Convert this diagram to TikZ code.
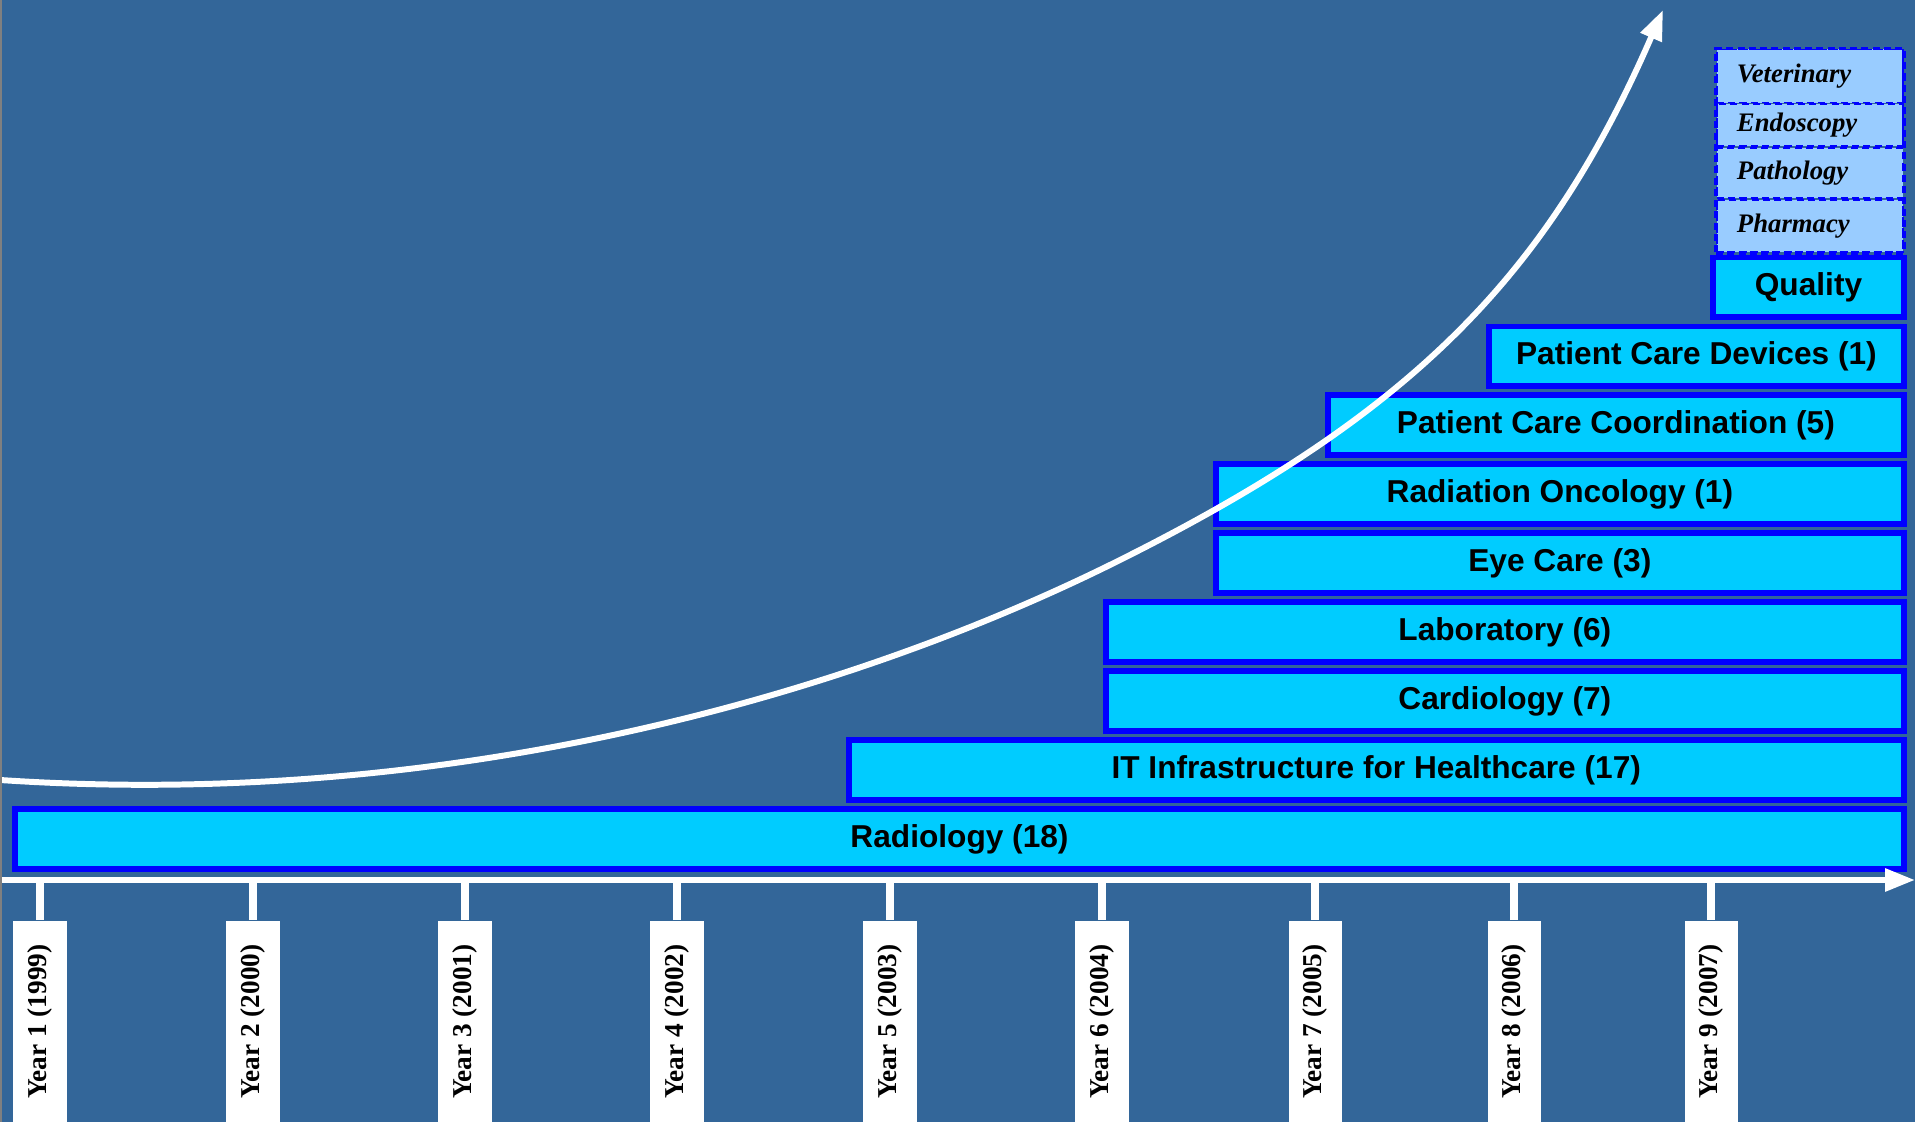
\documentclass[tikz,border=0pt]{standalone}
\usepackage{fontspec}
\setmainfont{Liberation Serif}
\setsansfont{Liberation Sans}
\usetikzlibrary{positioning,arrows.meta,fit}
\usepackage{xcolor}
\definecolor{bgblue}{RGB}{51,102,153}
\definecolor{deptfill}{RGB}{0,204,255}
\definecolor{newfill}{RGB}{153,204,255}

\begin{document}
\begin{tikzpicture}[x=0.01cm, y=-0.01cm]
\tikzstyle{dept}=[draw=blue, fill=deptfill, line width=1.6pt, minimum height=0.598cm, font=\sffamily\bfseries\fontsize{9}{10}\selectfont];
\tikzstyle{newarea}=[draw=blue, fill=newfill, line width=0.5pt, dash pattern=on 2pt off 1.2pt, text width=1.46cm, inner xsep=0.2cm, inner ysep=0pt, align=left, font=\bfseries\itshape\fontsize{7.6}{8}\selectfont];
\tikzstyle{yearbox}=[fill=white, rotate=90, anchor=east, minimum width=2.02cm, minimum height=0.53cm, inner sep=0pt, font=\bfseries\fontsize{7.75}{8}\selectfont];
\tikzstyle{yeartick}=[white, line width=2.5pt];
\useasboundingbox (0,0) rectangle (1915,1122);
\fill[bgblue] (0,0) rectangle (1915,1122);
\begin{scope}[>={Triangle[length=0.3cm, width=0.22cm]}]
  \coordinate (axisstart) at (0,880);
  \coordinate (axisend) at (1915,880);

  \node (radiology) at (959.5,839) [dept, minimum width=18.874cm]{Radiology (18)};
  \node (infra) [above=0.035cm of radiology.north east, anchor=south east, dept, minimum width=10.544cm]{IT Infrastructure for Healthcare (17)};
  \node (cardiology) [above=0.035cm of infra.north east, anchor=south east, dept, minimum width=7.974cm]{Cardiology (7)};
  \node (laboratory) [above=0.035cm of cardiology.north east, anchor=south east, dept, minimum width=7.974cm]{Laboratory (6)};
  \node (eyecare) [above=0.035cm of laboratory.north east, anchor=south east, dept, minimum width=6.874cm]{Eye Care (3)};
  \node (oncology) [above=0.035cm of eyecare.north east, anchor=south east, dept, minimum width=6.874cm]{Radiation Oncology (1)};
  \node (coordination) [above=0.035cm of oncology.north east, anchor=south east, dept, minimum width=5.754cm]{Patient Care Coordination (5)};
  \node (devices) [above=0.035cm of coordination.north east, anchor=south east, dept, minimum width=4.144cm]{Patient Care Devices (1)};
  \node (quality) [above=0.035cm of devices.north east, anchor=south east, dept, minimum width=1.904cm]{Quality};

  \node (veterinary) at (1810,76) [newarea, minimum height=0.53cm]{Veterinary};
  \node (endoscopy) [below=0pt of veterinary, newarea, minimum height=0.42cm]{Endoscopy};
  \node (pathology) [below=0pt of endoscopy, newarea, minimum height=0.50cm]{Pathology};
  \node (pharmacy) [below=0pt of pathology, newarea, minimum height=0.52cm]{Pharmacy};
  \node (newdomains) [fit=(veterinary)(pharmacy), draw=blue, line width=1pt, dash pattern=on 2pt off 1.2pt, inner sep=0pt]{};

  \node (year1) at (40,920) [yearbox]{Year 1 (1999)};
  \node (year2) at (253,920) [yearbox]{Year 2 (2000)};
  \node (year3) at (465,920) [yearbox]{Year 3 (2001)};
  \node (year4) at (677,920) [yearbox]{Year 4 (2002)};
  \node (year5) at (890,920) [yearbox]{Year 5 (2003)};
  \node (year6) at (1102,920) [yearbox]{Year 6 (2004)};
  \node (year7) at (1315,920) [yearbox]{Year 7 (2005)};
  \node (year8) at (1514,920) [yearbox]{Year 8 (2006)};
  \node (year9) at (1711,920) [yearbox]{Year 9 (2007)};

  \draw[yeartick] (year1.east) -- (year1.east |- axisstart);
  \draw[yeartick] (year2.east) -- (year2.east |- axisstart);
  \draw[yeartick] (year3.east) -- (year3.east |- axisstart);
  \draw[yeartick] (year4.east) -- (year4.east |- axisstart);
  \draw[yeartick] (year5.east) -- (year5.east |- axisstart);
  \draw[yeartick] (year6.east) -- (year6.east |- axisstart);
  \draw[yeartick] (year7.east) -- (year7.east |- axisstart);
  \draw[yeartick] (year8.east) -- (year8.east |- axisstart);
  \draw[yeartick] (year9.east) -- (year9.east |- axisstart);
  \draw[->, white, line width=1.7pt] (axisstart) -- (axisend);

  \draw[->, white, line width=1.7pt] (0,780) .. controls (450,810) and (850,695) .. (1120,560) .. controls (1411,414.5) and (1547,277) .. (1663,10);
  \draw[gray, line width=1.2pt] (0,0) -- (0,1122);
\end{scope}
\end{tikzpicture}
\end{document}
